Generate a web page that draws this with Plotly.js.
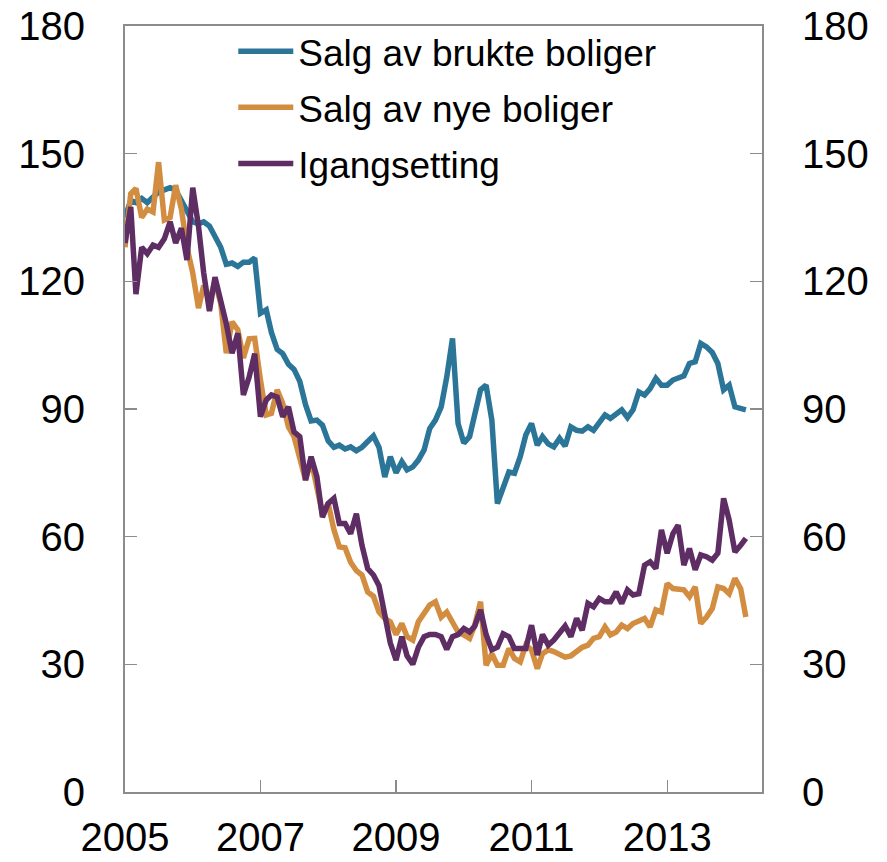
<!DOCTYPE html>
<html><head><meta charset="utf-8">
<script src="https://cdn.plot.ly/plotly-3.0.1.min.js"></script>
<style>html,body{margin:0;padding:0;background:#fff}#chart{width:887px;height:862px}</style>
</head><body><div id="chart"></div>
<script>
const seriesNames = ["Salg av brukte boliger", "Salg av nye boliger", "Igangsetting"];
const seriesColors = ["#2b7598", "#d28d40", "#5e2d63"];
const firstYear = 2005;
const tickYears = [2005, 2007, 2009, 2011, 2013];
const yTicks = [0, 30, 60, 90, 120, 150, 180];

const brukte = [135,139,138.5,139.5,138.5,140,141,141.5,142,141.5,139,136,
134,133.5,134,133,130.5,128,124,124.3,123.5,124.5,124.5,125.5,
112.5,113.3,108,104,103,100.5,99.3,96.5,91,87.2,87.4,86.2,
82.5,81,81.5,80.6,81.1,80.2,81,82.3,83.7,81,74,78.8,
75,77.6,75.7,76.4,78,80.4,85.4,87.4,90.5,97.5,106.6,86.6,
82,83.5,88.2,94.5,95.6,87.4,67.8,71.7,75.2,74.9,78.8,83.9,
86.6,81.5,83.5,81.8,81.1,83.1,81.3,85.8,85,84.8,85.8,85,
87,88.6,87.8,88.8,89.8,88,89.8,94,93.3,94.8,97.2,95.6,
95.6,96.8,97.2,97.8,100.7,101.1,105.4,104.6,103.3,100.7,94.5,95.6,
90.5,90.1,89.8];

const nye = [128,140.6,141.8,135,137,136.3,148,134.4,135,142.6,137,128,
122,113.7,119,115.6,120,114.8,103.1,110.5,108.6,102,106.5,106.6,
96.8,88.6,89,94.5,91.3,85.8,83.5,78.8,73.3,78,71.3,65.4,
67.8,61.6,57.6,57.4,54,52,51,47,46,42.3,40.8,40,
37,39.6,36.5,35.7,40,41.9,43.9,44.7,41.1,42.3,39.6,37.6,
36.9,36.1,39.2,44.7,29.8,32.5,29.8,29.8,33.7,31.4,30.6,34.5,
33.4,29,32.5,33.4,33,32.5,31.7,32,32.9,34,34.5,36.1,
36.5,38.8,36.9,37.6,39.2,38.4,39.6,40.2,40.8,38.8,42.8,42.3,
49,47.8,47.8,47.5,45.9,48.2,39.6,41.1,43.1,48.2,47.8,46.6,
50.2,47.8,41.1];

const igangsetting = [129,137.5,117,128,126.5,128.5,128,130,134,129,132.5,125,
142,133,122,113,121,115.6,110,103.1,107.8,93.3,97.5,103,
88.2,92.1,93.3,92.8,88.2,90.5,84.6,83.5,73.3,78.8,74.1,64.6,
67.8,69,63.1,63.1,60.7,65.4,58,52.5,51,48.5,41,35,
31,36.5,32,30,34,36.5,37,37,36.5,33.5,36.5,37,
38.4,37.6,39,42.8,37,33.4,34,37.2,36.5,33.7,33.7,33.7,
39.2,32.2,37,34.5,35.7,37.4,39,36.5,40.8,38,44.3,43.5,
45.5,44.7,44.7,47,44.3,47.5,46.3,46.6,53.3,54.1,52.5,61.6,
56.1,60.7,62.7,53.3,57.2,52.2,55.7,55.3,54.5,56.1,69,63.9,
56.4,58,59.6];

const months = brukte.map((_, i) => {
  const y = firstYear + Math.floor(i / 12);
  const m = (i % 12) + 1;
  return y + "-" + String(m).padStart(2, "0") + "-01";
});

const allSeries = [brukte, nye, igangsetting];
const traces = allSeries.map((vals, k) => ({
  x: months, y: vals, type: "scatter", mode: "lines",
  name: seriesNames[k], legendgroup: "g" + k,
  line: {color: seriesColors[k], width: 5.5},
  hoverinfo: "skip"
}));
traces.push({x: [], y: [], yaxis: "y2", type: "scatter", mode: "lines", showlegend: false, hoverinfo: "skip"});

const FONT = "Liberation Sans, Arial, sans-serif";
const axisCommon = {
  ticks: "inside", ticklen: 12, tickwidth: 1.3, tickcolor: "#8c8c8c",
  showline: true, linecolor: "#8c8c8c", linewidth: 2,
  showgrid: false, zeroline: false,
  tickfont: {family: FONT, size: 40, color: "#000"}
};

const layout = {
  width: 887, height: 862,
  margin: {l: 125, r: 125, t: 26, b: 70, pad: 0},
  paper_bgcolor: "#fff", plot_bgcolor: "#fff",
  font: {family: FONT, color: "#000"},
  showlegend: true,
  legend: {
    x: 0.17, y: 1.007, xanchor: "left", yanchor: "top",
    bgcolor: "rgba(0,0,0,0)", borderwidth: 0,
    font: {family: FONT, size: 37, color: "#000"},
    traceorder: "grouped", tracegroupgap: 5, itemwidth: 55
  },
  xaxis: Object.assign({}, axisCommon, {
    type: "date", range: ["2005-01-01", "2014-05-27"],
    tickvals: tickYears.map(y => y + "-01-01"),
    ticktext: tickYears.map(String),
    mirror: true, ticklabelstandoff: 9
  }),
  yaxis: Object.assign({}, axisCommon, {
    range: [0, 180], tickvals: yTicks, ticktext: yTicks.map(String),
    mirror: true, ticklabelstandoff: 30
  }),
  yaxis2: Object.assign({}, axisCommon, {
    range: [0, 180], tickvals: yTicks, ticktext: yTicks.map(String),
    overlaying: "y", side: "right", ticklabelstandoff: 30
  })
};

Plotly.newPlot("chart", traces, layout, {staticPlot: true, displayModeBar: false});
</script>
</body></html>
